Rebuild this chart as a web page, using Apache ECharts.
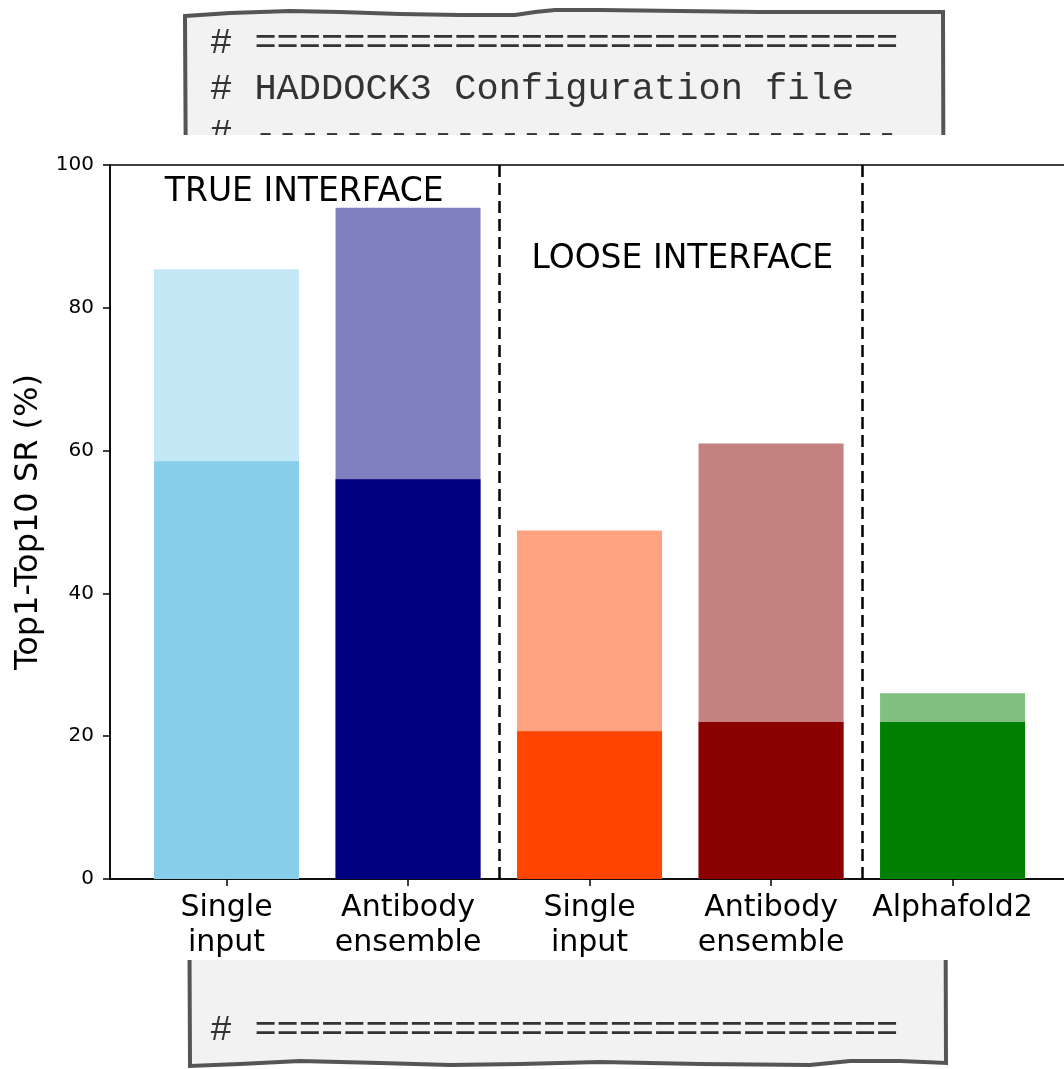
<!DOCTYPE html>
<html>
<head>
<meta charset="utf-8">
<title>Top1-Top10 SR</title>
<script src="https://cdn.jsdelivr.net/npm/echarts@6/dist/echarts.min.js"></script>
<style>
  html, body { margin: 0; padding: 0; background: #fff; }
  #chart { width: 1064px; height: 1069px; }
</style>
</head>
<body>
<div id="chart"></div>
<script>
// data
var categories = ['Single\ninput', 'Antibody\nensemble', 'Single\ninput', 'Antibody\nensemble', 'Alphafold2'];
var top10 = [85.4, 94.0, 48.8, 61.0, 26.0];
var top1 = [58.5, 56.0, 20.7, 22.0, 22.0];
var separators = [1.5, 3.5];
var annotText = ['TRUE INTERFACE', 'LOOSE INTERFACE'];
var annotX = [-0.34, 1.68];
var annotY = [96.2, 86.8];

// colours (light = the same colour at half alpha on white)
var darkColors = ['#87ceeb', '#000080', '#ff4500', '#8b0000', '#008000'];
var lightColors = ['#c3e7f5', '#8080c0', '#ffa280', '#c58080', '#80c080'];

var myChart = echarts.init(document.getElementById('chart'));

var mono = '"Liberation Mono", "DejaVu Sans Mono", monospace';
var codeLines = [
  { text: '# =============================', y: 43 },
  { text: '# HADDOCK3 Configuration file', y: 89 },
  { text: '# -----------------------------', y: 134 },
  { text: '# =============================', y: 1030 }
];

// outline of the sketched config box behind the figure
var boxOutline = [
  [185, 16], [230, 13], [290, 11], [340, 12], [400, 14], [460, 15], [515, 15],
  [535, 12], [555, 10], [600, 10], [680, 11], [760, 12], [850, 12], [943, 12],
  [944, 400], [946, 1063],
  [900, 1061], [850, 1061], [810, 1065], [700, 1064], [600, 1062], [520, 1064],
  [450, 1065], [380, 1063], [300, 1061], [240, 1064], [190, 1066],
  [188, 600]
];

var background = [
  {
    type: 'polygon',
    z: -20,
    shape: { points: boxOutline },
    style: { fill: '#f2f2f2', stroke: '#555', lineWidth: 4 }
  }
];
codeLines.forEach(function (l) {
  background.push({
    type: 'text', z: -19, x: 210, y: l.y,
    style: { text: l.text, font: '37px ' + mono, fill: '#333', verticalAlign: 'middle' }
  });
});
background.push({
  type: 'rect', z: -18,
  shape: { x: 0, y: 135, width: 1064, height: 825 },
  style: { fill: '#fff' }
});

var ticks = categories.map(function (c, i) { return i; });

var option = {
  animation: false,
  textStyle: { fontFamily: 'DejaVu Sans' },
  graphic: { elements: background },
  grid: {
    left: 110, top: 165, width: 958, height: 714,
    outerBoundsMode: 'none',
    containLabel: false,
    show: true, borderColor: '#000', borderWidth: 1.5, backgroundColor: 'transparent'
  },
  xAxis: {
    type: 'value',
    min: -0.642,
    max: 4.636,
    splitLine: { show: false },
    axisLine: { onZero: false, lineStyle: { color: '#000', width: 1.5 } },
    axisTick: { show: true, inside: false, customValues: ticks, length: 7, lineStyle: { color: '#000', width: 1.5 } },
    axisLabel: {
      customValues: ticks,
      color: '#000', fontSize: 30, lineHeight: 35, margin: 12,
      formatter: function (v) { return categories[Math.round(v)]; }
    }
  },
  yAxis: {
    type: 'value',
    min: 0,
    max: 100,
    interval: 20,
    splitLine: { show: false },
    axisLine: { show: true, onZero: false, lineStyle: { color: '#000', width: 1.5 } },
    axisTick: { show: true, inside: false, length: 7, lineStyle: { color: '#000', width: 1.5 } },
    axisLabel: { color: '#000', fontSize: 20, margin: 16 },
    name: 'Top1-Top10 SR (%)',
    nameLocation: 'middle',
    nameGap: 63,
    nameTextStyle: { color: '#000', fontSize: 32 }
  },
  series: [
    {
      name: 'Top10',
      type: 'bar',
      barWidth: 145,
      data: top10.map(function (v, i) { return [i, v]; }),
      itemStyle: { color: function (p) { return lightColors[p.dataIndex]; } },
      markLine: {
        silent: true,
        symbol: 'none',
        label: { show: false },
        lineStyle: { color: '#000', type: [12, 6], width: 2.5 },
        data: separators.map(function (x) { return { xAxis: x }; })
      }
    },
    {
      name: 'Top1',
      type: 'bar',
      barWidth: 145,
      barGap: '-100%',
      data: top1.map(function (v, i) { return [i, v]; }),
      itemStyle: { color: function (p) { return darkColors[p.dataIndex]; } }
    }
  ]
};

myChart.setOption(option);

// interval labels placed in data coordinates
var annots = annotText.map(function (t, i) {
  var p = myChart.convertToPixel({ gridIndex: 0 }, [annotX[i], annotY[i]]);
  return {
    type: 'text', z: 10, x: p[0], y: p[1],
    style: { text: t, font: '33px "DejaVu Sans"', fill: '#000', verticalAlign: 'middle', align: 'left' }
  };
});
myChart.setOption({ graphic: { elements: background.concat(annots) } });

window.addEventListener('resize', function () {
  myChart.resize();
});
</script>
</body>
</html>
